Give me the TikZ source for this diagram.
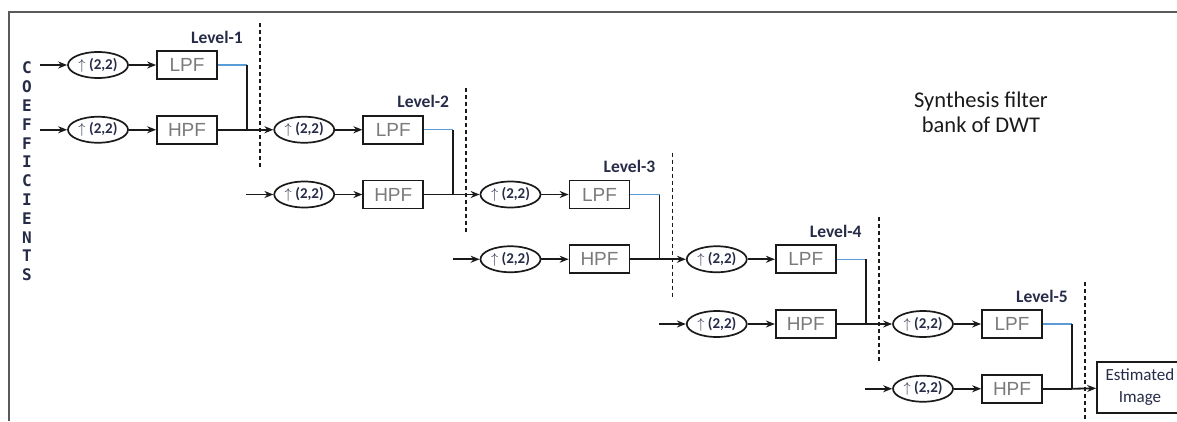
\documentclass[tikz,border=0pt]{standalone}
\usepackage{fontspec}
\setmainfont{Carlito}
\newfontfamily\filtfont{Liberation Sans}
\newfontfamily\coeffont{DejaVu Sans Mono}
\usepackage{tikz}
\usetikzlibrary{positioning,shapes.geometric,arrows,arrows.meta,calc}
\definecolor{ink}      {HTML}{1A1A1A}
\definecolor{navy}     {HTML}{262B47}
\definecolor{filtgray} {HTML}{7A7A7A}
\definecolor{wire}     {HTML}{5B9BD5}
\definecolor{framegray}{HTML}{5A5A5A}
\tikzset{
  >=stealth,
  % --- nodes
  up/.style    = {ellipse, draw=ink, line width=1.7pt, minimum width=60pt,
                  minimum height=26pt, inner sep=0pt, text=navy,
                  font=\bfseries\fontsize{15}{17}\selectfont},
  filt/.style  = {draw=ink, line width=1.7pt, minimum width=60pt, minimum height=28pt,
                  inner sep=0pt, text=filtgray, font=\filtfont\fontsize{19}{21}\selectfont},
  outbox/.style= {filt, minimum width=86pt, minimum height=51pt, align=center,
                  text=navy, font=\fontsize{17}{22}\selectfont},
  lvl/.style   = {text=navy, font=\bfseries\fontsize{17.5}{20}\selectfont},
  coef/.style  = {text=navy, font=\coeffont\bfseries\fontsize{16}{18}\selectfont},
  ttl/.style   = {text=ink, align=center, font=\fontsize{22.5}{25}\selectfont},
  % --- edges
  e/.style     = {-{Stealth[length=9pt,width=7pt]}, line width=1.8pt, draw=ink},
  ln/.style    = {line width=1.8pt, draw=ink},
  eblue/.style = {line width=1.1pt, draw=wire},
  levelsep/.style = {line width=1.6pt, draw=ink, dash pattern=on 4pt off 3pt},
  frm/.style   = {line width=1.8pt, draw=framegray},
}

\begin{document}
\begin{tikzpicture}[x=1pt, y=-1pt]
  \useasboundingbox (0,0) rectangle (1177,421);
  \clip (0,0) rectangle (1177,421);
  \draw[frm] (9,421) -- (9,12) -- (1177,12);
  % five levels, each one step right and down
  \foreach \i [evaluate=\i as \dx using 206.25*(\i-1),
              evaluate=\i as \dy using 64.75*(\i-1)] in {1,...,5} {
    \node[up]   (ua\i)  at (98+\dx, 65+\dy)      {$\uparrow$ (2,2)};
    \node[up]   (ub\i)  at (98+\dx, 129.75+\dy)  {$\uparrow$ (2,2)};
    \node[filt] (lpf\i) at (187+\dx, 65+\dy)     {LPF};
    \node[filt] (hpf\i) at (187+\dx, 129.75+\dy) {HPF};
    \node[lvl]  (lv\i)  at (217+\dx, 37+\dy)     {Level-\i};
    \coordinate (jn\i)  at (247+\dx, 129.75+\dy);
    \coordinate (inb\i) at (40+\dx, 129.75+\dy);
    \draw[levelsep] (260+\dx, 23+\dy) -- ++(0,144);
    \draw[e] (inb\i) -- (ub\i);
    \draw[e] (ua\i) -- (lpf\i);
    \draw[e] (ub\i) -- (hpf\i);
    \draw[eblue] (lpf\i.east) -- (lpf\i.east -| jn\i);
    \draw[ln] (lpf\i.east -| jn\i) -- (jn\i);
    \draw[ln] (hpf\i) -- (jn\i);
  }
  \coordinate (ina) at (40,65);
  \draw[e] (ina) -- (ua1);
  \foreach \i [count=\k from 2] in {1,...,4}
    \draw[e] (jn\i) -- (ua\k);
  \node[outbox] (est) at (1140,387.5) {Estimated\\Image};
  \draw[e] (jn5) -- (est);
  % side label
  \foreach \c [count=\k from 0] in {C,O,E,F,F,I,C,I,E,N,T,S}
    \node[coef] (cf\k) at (27, 68+18.8*\k) {\c};
  \node[ttl] (title) at (981,112) {Synthesis filter\\bank of DWT};
\end{tikzpicture}
\end{document}
